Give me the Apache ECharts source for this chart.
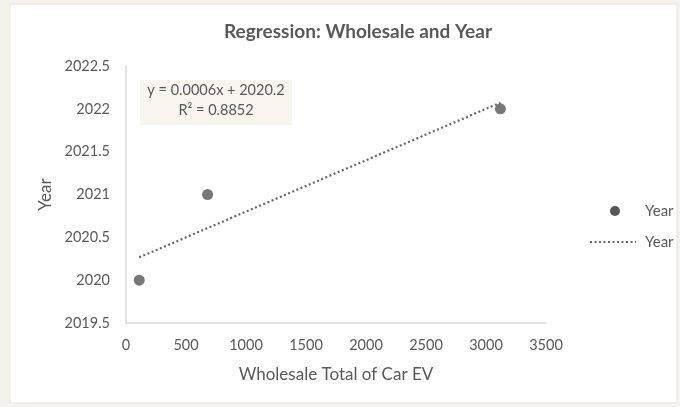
<!DOCTYPE html>
<html>
<head>
<meta charset="utf-8">
<style>
  html, body { margin: 0; padding: 0; background: #f4f2ec; }
  #chart { width: 680px; height: 407px; }
</style>
<script src="https://cdn.jsdelivr.net/npm/echarts@6/dist/echarts.min.js"></script>
</head>
<body>
<div id="chart"></div>
<script>
// Wholesale totals of car EVs against year
const wholesale = [110, 680, 3120];
const years = [2020, 2021, 2022];

// Linear trendline as reported in the equation label
const slope = 0.0006;
const intercept = 2020.2;
const rSquared = 0.8852;

const xTicks = [0, 500, 1000, 1500, 2000, 2500, 3000, 3500];
const yTicks = [2019.5, 2020, 2020.5, 2021, 2021.5, 2022, 2022.5];

const points = wholesale.map((x, i) => [x, years[i]]);
const xMin = Math.min(...wholesale), xMax = Math.max(...wholesale);
const trend = [xMin, xMax].map(x => [x, intercept + slope * x]);

const FONT = 'Lato, "Open Sans", sans-serif';
const GREY = '#595959';

const chart = echarts.init(document.getElementById('chart'));
chart.setOption({
  backgroundColor: 'transparent',
  animation: false,
  title: {
    text: 'Regression: Wholesale and Year',
    left: 353, top: 17, textAlign: 'center',
    textStyle: { fontFamily: FONT, fontSize: 19, fontWeight: 'bold', color: GREY }
  },
  grid: { left: 126, right: 134, top: 66, bottom: 84 },
  xAxis: {
    type: 'value', min: 0, max: 3500, interval: 500,
    name: 'Wholesale Total of Car EV', nameLocation: 'middle', nameGap: 43,
    nameTextStyle: { fontFamily: FONT, fontSize: 17, color: GREY },
    axisLine: { show: true, lineStyle: { color: '#d9d9d9', width: 1.5 } },
    axisTick: { show: false },
    splitLine: { show: false },
    axisLabel: { fontFamily: FONT, fontSize: 14.5, color: GREY, margin: 15,
      formatter: v => xTicks.includes(v) ? String(v) : '' }
  },
  yAxis: {
    type: 'value', min: 2019.5, max: 2022.5, interval: 0.5,
    name: 'Year', nameLocation: 'middle', nameGap: 71, nameRotate: 90,
    nameTextStyle: { fontFamily: FONT, fontSize: 17, color: GREY },
    axisLine: { show: true, lineStyle: { color: '#d9d9d9', width: 1.5 } },
    axisTick: { show: false },
    splitLine: { show: false },
    axisLabel: { fontFamily: FONT, fontSize: 14.5, color: GREY, margin: 16,
      formatter: v => yTicks.includes(v) ? String(v) : '' }
  },
  graphic: [
    { type: 'rect', z: -10, silent: true,
      shape: { x: 10, y: 4, width: 667, height: 399 },
      style: { fill: '#ffffff', stroke: '#e6e3dc', lineWidth: 1 } },
    // equation box
    { type: 'rect', z: 5, silent: true,
      shape: { x: 140, y: 80, width: 152, height: 45 },
      style: { fill: '#f8f5ee' } },
    { type: 'text', z: 10, x: 216, y: 90,
      style: { text: 'y = 0.0006x + 2020.2', fontFamily: FONT, fontSize: 14.5,
        fill: GREY, align: 'center', verticalAlign: 'middle' } },
    { type: 'text', z: 10, x: 216, y: 110,
      style: { text: 'R² = ' + rSquared, fontFamily: FONT, fontSize: 14.5,
        fill: GREY, align: 'center', verticalAlign: 'middle' } },
    // legend entries
    { type: 'circle', shape: { cx: 615, cy: 211, r: 5 }, style: { fill: '#555555' } },
    { type: 'text', x: 645, y: 211,
      style: { text: 'Year', fontFamily: FONT, fontSize: 15, fill: GREY, verticalAlign: 'middle' } },
    { type: 'line', shape: { x1: 590, y1: 242, x2: 636, y2: 242 },
      style: { stroke: '#666666', lineWidth: 2.2, lineDash: [2, 2.5] } },
    { type: 'text', x: 645, y: 242,
      style: { text: 'Year', fontFamily: FONT, fontSize: 15, fill: GREY, verticalAlign: 'middle' } }
  ],
  series: [
    {
      name: 'Year', type: 'scatter', data: points,
      symbol: 'circle', symbolSize: 11,
      itemStyle: { color: '#555555' }, z: 3
    },
    {
      name: 'Year', type: 'line', data: trend,
      symbol: 'none', z: 2,
      lineStyle: { color: '#666666', width: 2.2, type: [2, 2.5] }
    }
  ]
});
</script>
</body>
</html>
